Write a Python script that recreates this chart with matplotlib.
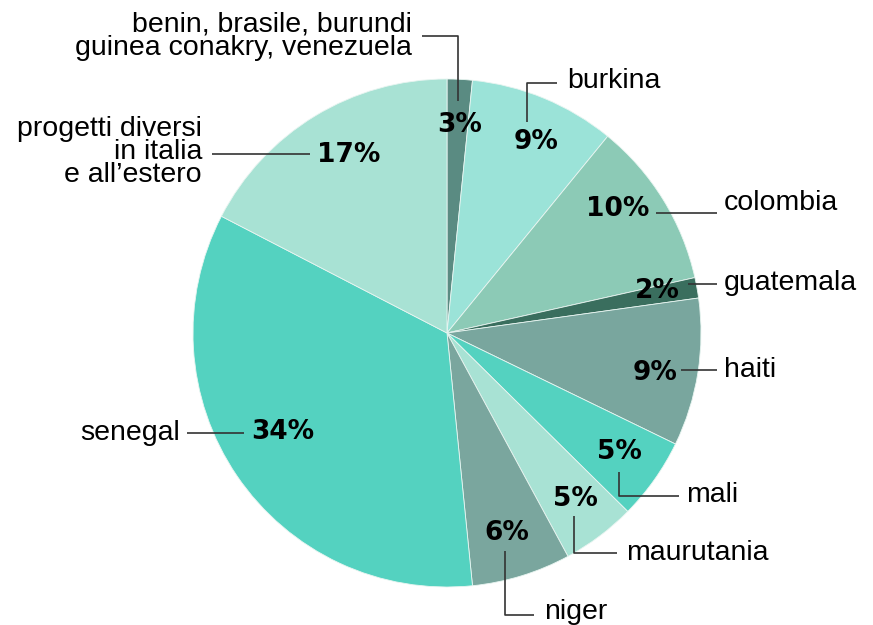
import matplotlib.pyplot as plt

# shares, clockwise from 12 o'clock
names = ["benin, brasile, burundi\nguinea conakry, venezuela", "burkina", "colombia",
         "guatemala", "haiti", "mali", "maurutania", "niger", "senegal",
         "progetti diversi\nin italia\ne all\u2019estero"]
shares = [1.6, 9.3, 10.6, 1.3, 9.4, 5.2, 4.7, 6.3, 34.2, 17.4]
pct_labels = ["3%", "9%", "10%", "2%", "9%", "5%", "5%", "6%", "34%", "17%"]
colors = ["#5a8b82", "#9be3d8", "#8ccab6", "#3a6e5e", "#79a69e",
          "#54d2c0", "#a8e2d4", "#7aa69e", "#54d2c0", "#a8e2d4"]

W, H = 873, 625

# layout in pixel coords (y from top): percent label, name label, leader polyline
pct_pos = [(460, 125), (536, 142), (618, 209), (657, 291), (655, 373),
           (619, 452), (575, 499), (507, 533), (283, 432), (349, 155)]
name_pos = [(412, 36, "right"), (567, 81, "left"), (724, 203, "left"),
            (724, 283, "left"), (724, 370, "left"), (686, 495, "left"),
            (626, 553, "left"), (544, 612, "left"), (180, 433, "right"),
            (202, 152, "right")]
leaders = [[(422, 36), (458, 36), (458, 101)],
           [(557, 83), (527, 83), (527, 122)],
           [(717, 213), (656, 213)],
           [(717, 284), (688, 284)],
           [(717, 370), (681, 370)],
           [(679, 496), (619, 496), (619, 472)],
           [(617, 553), (574, 553), (574, 516)],
           [(534, 615), (505, 615), (505, 551)],
           [(187, 433), (244, 433)],
           [(212, 154), (310, 154)]]

fig = plt.figure(figsize=(W / 100, H / 100), dpi=100)
ax = fig.add_axes([0, 0, 1, 1])

ax.pie(shares, colors=colors, startangle=90, counterclock=False,
       center=(447, H - 333), radius=254, frame=True,
       wedgeprops=dict(edgecolor="#e8f5f1", linewidth=0.6))
ax.set_xlim(0, W)
ax.set_ylim(0, H)
ax.set_aspect("equal")
ax.axis("off")

for pts in leaders:
    xs = [p[0] for p in pts]
    ys = [H - p[1] for p in pts]
    ax.plot(xs, ys, color="#333333", lw=1.2, solid_capstyle="butt")

for lab, (x, y) in zip(pct_labels, pct_pos):
    ax.text(x, H - y, lab, ha="center", va="center", fontsize=19,
            fontweight="bold", family="DejaVu Sans", color="black")

for name, (x, y, ha) in zip(names, name_pos):
    ax.text(x, H - y, name, ha=ha, va="center", fontsize=20.5,
            family="Liberation Sans", color="black", linespacing=0.86,
            multialignment="right" if ha == "right" else "left")

fig.savefig("out.png", dpi=100)
